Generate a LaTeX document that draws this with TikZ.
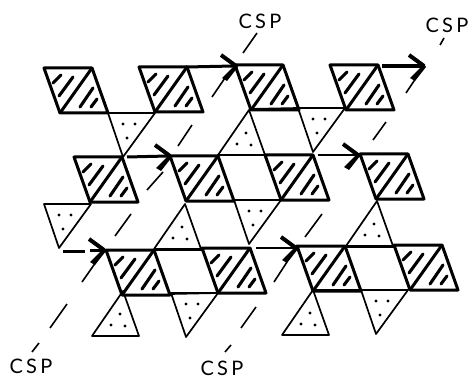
\documentclass[tikz,border=0pt]{standalone}
\usepackage{fontspec}
\setmainfont{Lato}
\tikzset{
  thickln/.style={line width=3pt,line join=round},
  thinln/.style={line width=1.7pt,line join=round},
  hatch/.style={line width=3.1pt,line cap=round},
  dashln/.style={line width=1.6pt},
  dotmark/.style={fill=black,draw=none},
  label/.style={font=\fontsize{20}{20}\selectfont,inner sep=0pt}
}
\newcommand{\hpar}[2]{%
  \begin{scope}[shift={(#1,#2)}]
    \draw[thickln] (0,0)--(48,0)--(64,45)--(16,45)--cycle;
    \draw[thickln] (48,0)--(16,45);
    \draw[hatch] (9,15)--(17,7);
    \draw[hatch] (15,28)--(29,9);
    \draw[hatch] (36,39)--(49,20);
    \draw[hatch] (47,39)--(53,31);
  \end{scope}}
\newcommand{\dtri}[2]{%
  \begin{scope}[shift={(#1,#2)}]
    \draw[thinln] (0,0)--(47,0)--(15,44)--cycle;
    \fill[dotmark] (15,11) circle (1.7) (27,11) circle (1.7) (19,25) circle (1.7);
  \end{scope}}
\newcommand{\utri}[2]{%
  \begin{scope}[shift={(#1,#2)}]
    \draw[thinln] (0,0)--(16,45)--(-31,45)--cycle;
    \fill[dotmark] (-3,23) circle (1.7) (-12,34) circle (1.7) (2,35) circle (1.7);
  \end{scope}}
\newcommand{\arrowhd}[2]{%
  \begin{scope}[shift={(#1,#2)}]
    \draw[line width=4pt,line join=miter] (-15,-11)--(0,0);
    \fill (0,-2)--(2,1)--(-9,15)--(-14,12)--cycle;
  \end{scope}}
\begin{document}
\begin{tikzpicture}[x=1pt,y=-1pt]
\useasboundingbox (0,0) rectangle (470,379);
% triangles
\dtri{108}{113}
\dtri{44}{204}
\dtri{171}{293}
\dtri{361}{290}
\dtri{234}{200}
\dtri{298}{108}
\utri{123}{291}
\utri{313}{290}
\utri{249}{110}
\utri{185}{204}
\utri{377}{201}
% thin rungs of the white cells
\draw[thinln] (217,155)--(265,155);
\draw[thinln] (249,109)--(298,108);
\draw[thinln] (153,250)--(202,250);
\draw[thinln] (170,294)--(218,293);
\draw[thinln] (345,247)--(394,247);
\draw[thinln] (313,290)--(361,290);
% hatched parallelograms
\hpar{44}{68}
\hpar{139}{67}
\hpar{235}{65}
\hpar{330}{65}
\hpar{74}{157}
\hpar{170}{156}
\hpar{265}{155}
\hpar{360}{154}
\hpar{106}{250}
\hpar{202}{248}
\hpar{297}{246}
\hpar{394}{245}
% labels
\node[label] (cspa) at (260,21) {C\,S\,P};
\node[label] (cspb) at (447,25) {C\,S\,P};
\node[label] (cspc) at (31,366) {C\,S\,P};
\node[label] (cspd) at (222,368) {C\,S\,P};
% glide lines
\coordinate (a1) at (32,352); \coordinate (a2) at (39,343);
\draw[dashln] (a1)--(a2);
\draw[dashln] (50,328)--(67,304);
\draw[dashln] (82,282)--(96,262);
\draw[dashln] (115,236)--(131,214);
\draw[dashln] (147,190)--(163,172);
\draw[dashln] (178,146)--(192,125);
\draw[dashln] (212,97)--(227,75);
\draw[dashln] (243,53)--(257,33);
\draw[dashln] (225,352)--(231,345);
\draw[dashln] (241,328)--(256,307);
\draw[dashln] (274,282)--(287,262);
\draw[dashln] (305,237)--(322,214);
\draw[dashln] (373,140)--(386,122);
\draw[dashln] (406,93)--(418,75);
\draw[dashln] (440,45)--(444,38);
% arrows
\draw[line width=3pt] (186,67)--(234,66); \arrowhd{236}{66}
\draw[line width=3.6pt] (382,66)--(422,66); \arrowhd{424}{66}
\draw[line width=3pt] (127,157)--(168,156); \arrowhd{170}{156}
\draw[line width=2.8pt] (318,155)--(356,155); \arrowhd{358}{155}
\draw[line width=2.8pt] (256,248)--(295,248); \arrowhd{296}{248}
\draw[line width=3pt] (63,251)--(85,251) (90,250)--(103,250); \arrowhd{104}{250}
\end{tikzpicture}
\end{document}
